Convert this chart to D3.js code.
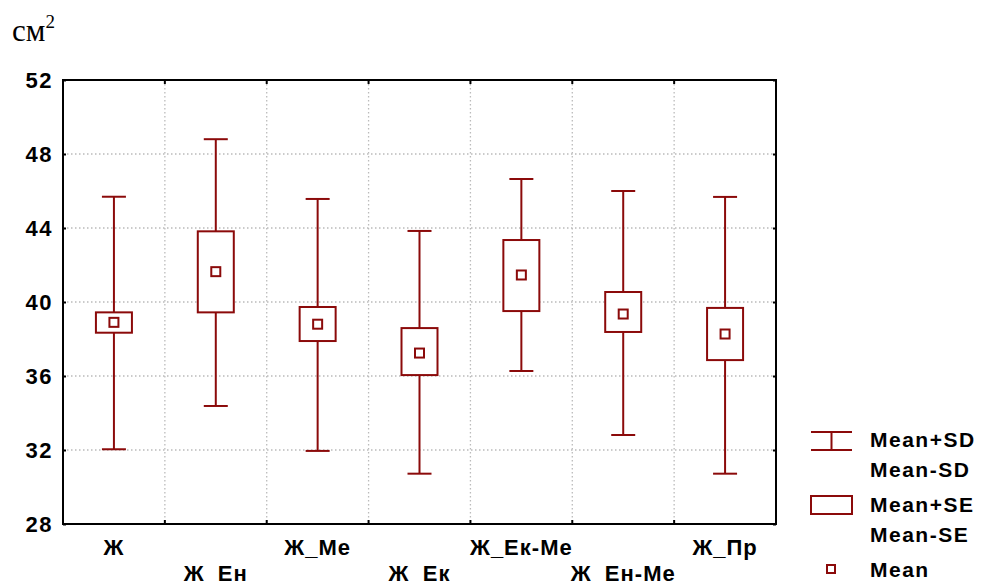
<!DOCTYPE html>
<html>
<head>
<meta charset="utf-8">
<script src="https://cdn.jsdelivr.net/npm/d3@7"></script>
<style>
  body { margin: 0; background: #fff; }
  text.b { font-family: Arial, "Liberation Sans", sans-serif; font-weight: bold; }
</style>
</head>
<body>
<script>
const categories = ['Ж', 'Ж_Ен', 'Ж_Ме', 'Ж_Ек', 'Ж_Ек-Ме', 'Ж_Ен-Ме', 'Ж_Пр'];
const means  = [38.9, 41.64, 38.8, 37.24, 41.46, 39.35, 38.27];
const seHigh = [39.44, 43.82, 39.73, 38.59, 43.35, 40.54, 39.68];
const seLow  = [38.34, 39.44, 37.89, 36.05, 39.51, 38.38, 36.86];
const sdHigh = [45.69, 48.8, 45.57, 43.84, 46.65, 46.0, 45.68];
const sdLow  = [32.04, 34.38, 31.95, 30.72, 36.27, 32.81, 30.72];
const yTicks = [28, 32, 36, 40, 44, 48, 52];

const W = 983, H = 583;
const margin = { top: 80, right: 207, bottom: 59, left: 63 };
const width = W - margin.left - margin.right;
const height = H - margin.top - margin.bottom;
const red = '#8b0a0a';

const data = categories.map((c, i) => ({
  cat: c, mean: means[i], seH: seHigh[i], seL: seLow[i], sdH: sdHigh[i], sdL: sdLow[i]
}));

const svg = d3.select('body').append('svg')
  .attr('width', W)
  .attr('height', H);

const g = svg.append('g')
  .attr('transform', `translate(${margin.left},${margin.top})`);

const x = d3.scaleBand().domain(categories).range([0, width]);
const y = d3.scaleLinear().domain([28, 52]).range([height, 0]);

// grid
g.append('g').selectAll('line')
  .data(yTicks.slice(1, -1))
  .enter().append('line')
  .attr('x1', 0).attr('x2', width)
  .attr('y1', d => y(d)).attr('y2', d => y(d))
  .attr('stroke', '#bbb').attr('stroke-width', 1.3)
  .attr('stroke-dasharray', '1.5,2.5');

g.append('g').selectAll('line')
  .data(categories.slice(1))
  .enter().append('line')
  .attr('x1', d => x(d)).attr('x2', d => x(d))
  .attr('y1', 0).attr('y2', height)
  .attr('stroke', '#bbb').attr('stroke-width', 1.3)
  .attr('stroke-dasharray', '1.5,2.5');

// y axis labels and ticks
const yAxis = d3.axisLeft(y).tickValues(yTicks).tickSize(-3).tickPadding(8);
const ya = g.append('g').call(yAxis);
ya.select('.domain').remove();
ya.selectAll('line').attr('stroke', '#000').attr('stroke-width', 2);
ya.selectAll('text').attr('class', 'b').attr('font-size', 22).attr('fill', '#000')
  .attr('letter-spacing', 1.5).attr('dx', -2);

const yAxisR = d3.axisRight(y).tickValues(yTicks).tickSize(-3).tickFormat('');
const yr = g.append('g').attr('transform', `translate(${width},0)`).call(yAxisR);
yr.select('.domain').remove();
yr.selectAll('line').attr('stroke', '#000').attr('stroke-width', 2);

// x ticks at band edges
const edges = categories.slice(1).map(c => x(c));
g.append('g').selectAll('line')
  .data(edges).enter().append('line')
  .attr('x1', d => d).attr('x2', d => d)
  .attr('y1', height).attr('y2', height - 4)
  .attr('stroke', '#000').attr('stroke-width', 2);
g.append('g').selectAll('line')
  .data(edges).enter().append('line')
  .attr('x1', d => d).attr('x2', d => d)
  .attr('y1', 0).attr('y2', 4)
  .attr('stroke', '#000').attr('stroke-width', 2);

// frame
g.append('rect')
  .attr('x', 0).attr('y', 0)
  .attr('width', width).attr('height', height)
  .attr('fill', 'none').attr('stroke', '#000').attr('stroke-width', 2);

// x labels, staggered
g.append('g').selectAll('text')
  .data(categories).enter().append('text')
  .attr('class', 'b')
  .attr('x', d => x(d) + x.bandwidth() / 2)
  .attr('y', (d, i) => i % 2 === 0 ? height + 31 : height + 57)
  .attr('text-anchor', 'middle')
  .attr('font-size', 22)
  .attr('letter-spacing', 1)
  .text(d => d);

// boxes
const boxW = 36, capW = 24, markW = 9;
const grp = g.append('g').selectAll('g')
  .data(data).enter().append('g')
  .attr('transform', d => `translate(${x(d.cat) + x.bandwidth() / 2},0)`);

grp.append('line')
  .attr('x1', 0).attr('x2', 0)
  .attr('y1', d => y(d.sdH)).attr('y2', d => y(d.seH))
  .attr('stroke', red).attr('stroke-width', 2);
grp.append('line')
  .attr('x1', 0).attr('x2', 0)
  .attr('y1', d => y(d.seL)).attr('y2', d => y(d.sdL))
  .attr('stroke', red).attr('stroke-width', 2);
grp.append('line')
  .attr('x1', -capW / 2).attr('x2', capW / 2)
  .attr('y1', d => y(d.sdH)).attr('y2', d => y(d.sdH))
  .attr('stroke', red).attr('stroke-width', 2);
grp.append('line')
  .attr('x1', -capW / 2).attr('x2', capW / 2)
  .attr('y1', d => y(d.sdL)).attr('y2', d => y(d.sdL))
  .attr('stroke', red).attr('stroke-width', 2);
grp.append('rect')
  .attr('x', -boxW / 2).attr('width', boxW)
  .attr('y', d => y(d.seH)).attr('height', d => y(d.seL) - y(d.seH))
  .attr('fill', '#fff').attr('stroke', red).attr('stroke-width', 2);
grp.append('rect')
  .attr('x', -markW / 2).attr('width', markW)
  .attr('y', d => y(d.mean) - markW / 2).attr('height', markW)
  .attr('fill', '#fff').attr('stroke', red).attr('stroke-width', 2);

// unit label
const unit = svg.append('text')
  .attr('x', 12).attr('y', 41)
  .style('font-family', '"Liberation Serif", "Times New Roman", serif')
  .style('font-weight', 'normal')
  .attr('font-size', 31);
unit.append('tspan').text('см');
unit.append('tspan').attr('font-size', 19).attr('dy', -13).text('2');

// legend
const lg = svg.append('g');
const lx = 811, lw = 41, tx = 870;
lg.append('line').attr('x1', lx).attr('x2', lx + lw).attr('y1', 432).attr('y2', 432)
  .attr('stroke', red).attr('stroke-width', 2);
lg.append('line').attr('x1', lx).attr('x2', lx + lw).attr('y1', 450).attr('y2', 450)
  .attr('stroke', red).attr('stroke-width', 2);
lg.append('line').attr('x1', lx + lw / 2).attr('x2', lx + lw / 2).attr('y1', 432).attr('y2', 450)
  .attr('stroke', red).attr('stroke-width', 2);
lg.append('rect').attr('x', lx).attr('y', 496).attr('width', lw).attr('height', 18)
  .attr('fill', 'none').attr('stroke', red).attr('stroke-width', 2);
lg.append('rect').attr('x', 827).attr('y', 565).attr('width', 8).attr('height', 8)
  .attr('fill', 'none').attr('stroke', red).attr('stroke-width', 2);

const legendText = [['Mean+SD', 447], ['Mean-SD', 477], ['Mean+SE', 512], ['Mean-SE', 542], ['Mean', 577]];
lg.selectAll('text.lt').data(legendText).enter().append('text')
  .attr('class', 'b')
  .attr('x', tx).attr('y', d => d[1])
  .attr('font-size', 21).attr('letter-spacing', 1.5)
  .text(d => d[0]);
</script>
</body>
</html>
